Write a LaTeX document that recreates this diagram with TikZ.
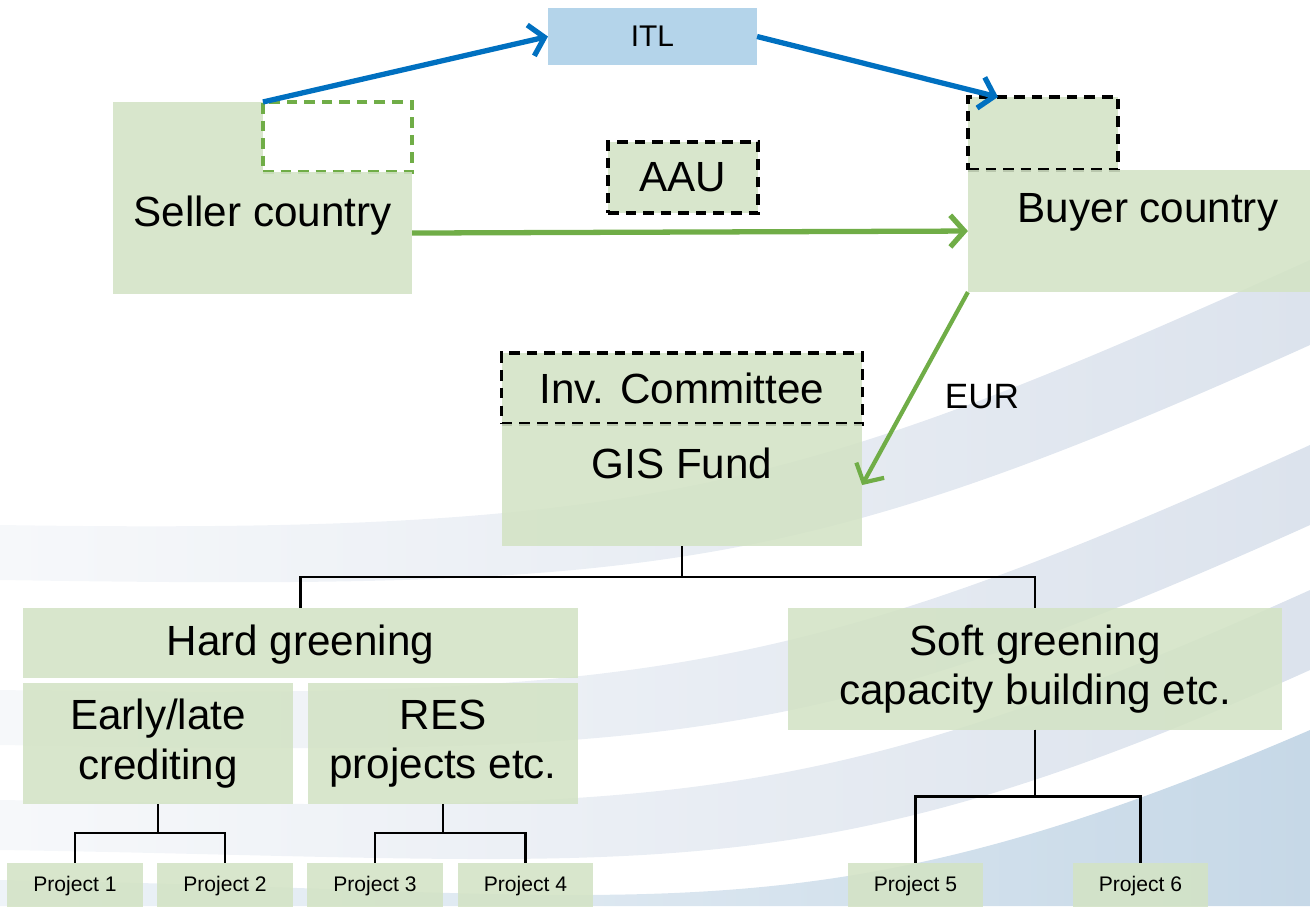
\documentclass[tikz,border=0pt]{standalone}
\usepackage{fontspec}
\setmainfont{Liberation Sans}
\usetikzlibrary{arrows.meta}
\definecolor{boxgreen}{HTML}{D3E3C5}
\definecolor{linegreen}{HTML}{70AD47}
\definecolor{itlblue}{HTML}{B4D4EA}
\definecolor{arrowblue}{HTML}{0070C0}
\definecolor{swoosh}{HTML}{DCE3ED}
\definecolor{swooshdeep}{HTML}{C6D8E7}
\newcommand{\boxfont}{\fontsize{12}{14}\selectfont}
\newcommand{\projfont}{\fontsize{6}{7}\selectfont}

\begin{document}
\begin{tikzpicture}[x=0.01cm,y=-0.01cm,
 box/.style={fill=boxgreen,fill opacity=0.88,text opacity=1,inner sep=0pt,outer sep=0pt,font=\boxfont,align=center},
 slot/.style={box,draw=black,line width=0.9pt,dash pattern=on 3pt off 2pt},
 proj/.style={box,font=\projfont,minimum width=1.35cm,minimum height=0.46cm},
 tip/.style={-{Straight Barb[length=4pt,width=9pt]}},
 tree/.style={line width=0.6pt}]
\useasboundingbox (0,0) rectangle (1310,906);
\clip (0,0) rectangle (1310,906);
\foreach \a/\b/\c/\d in {525/260/345/580, 690/445/525/745, 800/590/670/850} {
 \shade[left color=swoosh!25,right color=swoosh] (0,\a) .. controls (650,\a+10) and (800,\b+230) .. (1310,\b) -- (1310,\c) .. controls (800,\c+230) and (650,\d+10) .. (0,\d) -- cycle;
 }
\shade[left color=swooshdeep!30,right color=swooshdeep] (0,880) .. controls (650,890) and (800,950) .. (1310,730) -- (1310,906) -- (0,906) -- cycle;

\node[box,fill=itlblue,fill opacity=1,font=\fontsize{8.5}{10}\selectfont,minimum width=2.09cm,minimum height=0.57cm] (itl) at (652.5,36.5) {ITL};
\node[box,minimum width=1.50cm,minimum height=0.70cm] (sellertop) at (188,137) {};
\node[box,fill=white,fill opacity=1,draw=linegreen,line width=0.9pt,dash pattern=on 3pt off 2pt,minimum width=1.49cm,minimum height=0.70cm] (sellerslot) at (337.5,137) {};
\node[box,anchor=north,minimum width=2.99cm,text height=0.54cm,text depth=0.68cm] (seller) at (262.5,172) {Seller country};
\node[slot,minimum width=1.50cm,minimum height=0.71cm] (aau) at (683,177.5) {AAU};
\node[slot,minimum width=1.50cm,minimum height=0.73cm] (buyerslot) at (1043,133.5) {};
\node[box,anchor=north,minimum width=3.60cm,text height=0.52cm,text depth=0.70cm] (buyer) at (1148,170) {Buyer country};
\node[slot,minimum width=3.60cm,minimum height=0.71cm] (inv) at (682,388.5) {Inv. Committee};
\node[box,anchor=north,minimum width=3.60cm,text height=0.54cm,text depth=0.68cm] (gis) at (682,424) {GIS Fund};
\node[font=\fontsize{10}{12}\selectfont,inner sep=0pt] (eur) at (982,397) {EUR};

\node[box,minimum width=5.55cm,minimum height=0.70cm,text depth=0.06cm] (hard) at (300.5,643) {Hard greening};
\node[box,minimum width=2.70cm,minimum height=1.21cm] (early) at (158,743.5) {Early/late\\crediting};
\node[box,minimum width=2.70cm,minimum height=1.21cm] (res) at (443,743.5) {RES\\projects etc.};
\node[box,minimum width=4.94cm,minimum height=1.21cm] (soft) at (1035,669) {Soft greening\\capacity building etc.};
\foreach \i/\x in {1/75,2/225,3/375,4/525.5,5/915.5,6/1140.5}
 \node[proj] (p\i) at (\x,886) {Project \i};

\draw[arrowblue,line width=1.5pt,tip] (sellerslot.north west) -- (itl.west);
\draw[arrowblue,line width=1.5pt,tip] (itl.east) -- ([xshift=0.3cm]buyerslot.north west);
\draw[linegreen,line width=1.5pt,tip] (seller.east) -- (buyer.west);
\draw[linegreen,line width=1.2pt,tip] (buyer.south west) -- (gis.east);

\draw[tree] (gis.south) -- ++(0,31) -| (hard.north);
\draw[tree] (gis.south) -- ++(0,31) -| (soft.north);
\foreach \a/\b/\c/\d in {early/p1/p2/29, res/p3/p4/29, soft/p5/p6/67} {
 \draw[tree] (\a.south) -- ++(0,\d) -| (\b.north);
 \draw[tree] (\a.south) -- ++(0,\d) -| (\c.north);
 }
\end{tikzpicture}
\end{document}
